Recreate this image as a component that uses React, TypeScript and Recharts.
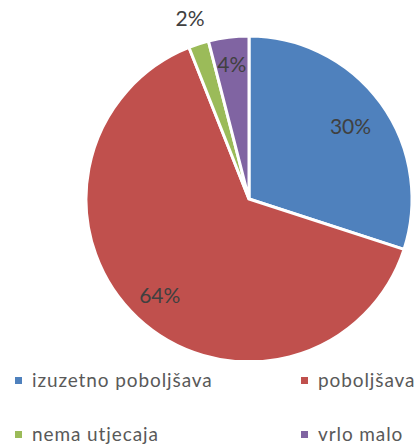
import React from 'react';
import { PieChart, Pie, Cell } from 'recharts';

const categories = ['izuzetno poboljšava', 'poboljšava', 'nema utjecaja', 'vrlo malo'];
const shares = [30, 64, 2, 4];
const colors = ['#4F81BD', '#C0504D', '#9BBB59', '#8064A2'];
// label distance from centre, as a share of the radius
const labelRadius = [0.77, 0.8, 1.17, 0.84];

const data = categories.map((name, i) => ({ name, value: shares[i] }));

const RADIAN = Math.PI / 180;

const renderLabel = (props: any) => {
    const { cx, cy, midAngle, outerRadius, index, value } = props;
    const r = outerRadius * labelRadius[index];
    const x = cx + r * Math.cos(-midAngle * RADIAN);
    const y = cy + r * Math.sin(-midAngle * RADIAN);
    return (
        <text x={x} y={y} fill="#404040" textAnchor="middle" dominantBaseline="central"
            fontFamily="Lato" fontSize={21}>
            {`${value}%`}
        </text>
    );
};

const ChartLegend = () => (
    <div style={{ position: 'absolute', left: 0, top: 368, width: 417, height: 78, fontFamily: 'Lato', fontSize: 19, color: '#595959', letterSpacing: 0.9 }}>
        {categories.map((name, i) => (
            <div key={name} style={{
                position: 'absolute',
                left: i % 2 === 0 ? 15 : 301,
                top: i < 2 ? 0 : 54,
                display: 'flex', alignItems: 'center', whiteSpace: 'nowrap', lineHeight: '24px',
            }}>
                <span style={{ display: 'inline-block', width: 7, height: 7, background: colors[i], marginRight: 10 }} />
                {name}
            </div>
        ))}
    </div>
);

export default function App() {
    return (
        <div style={{ position: 'absolute', left: 0, top: 0, width: 417, height: 446, background: '#fff' }}>
            <PieChart width={417} height={360} margin={{ top: 0, right: 0, bottom: 0, left: 0 }}>
                <Pie
                    data={data}
                    dataKey="value"
                    cx={249}
                    cy={199}
                    outerRadius={163}
                    startAngle={90}
                    endAngle={-270}
                    stroke="#fff"
                    strokeWidth={3}
                    label={renderLabel}
                    labelLine={false}
                    isAnimationActive={false}
                >
                    {data.map((entry, i) => (
                        <Cell key={`cell-${i}`} fill={colors[i]} />
                    ))}
                </Pie>
            </PieChart>
            <ChartLegend />
        </div>
    );
}
